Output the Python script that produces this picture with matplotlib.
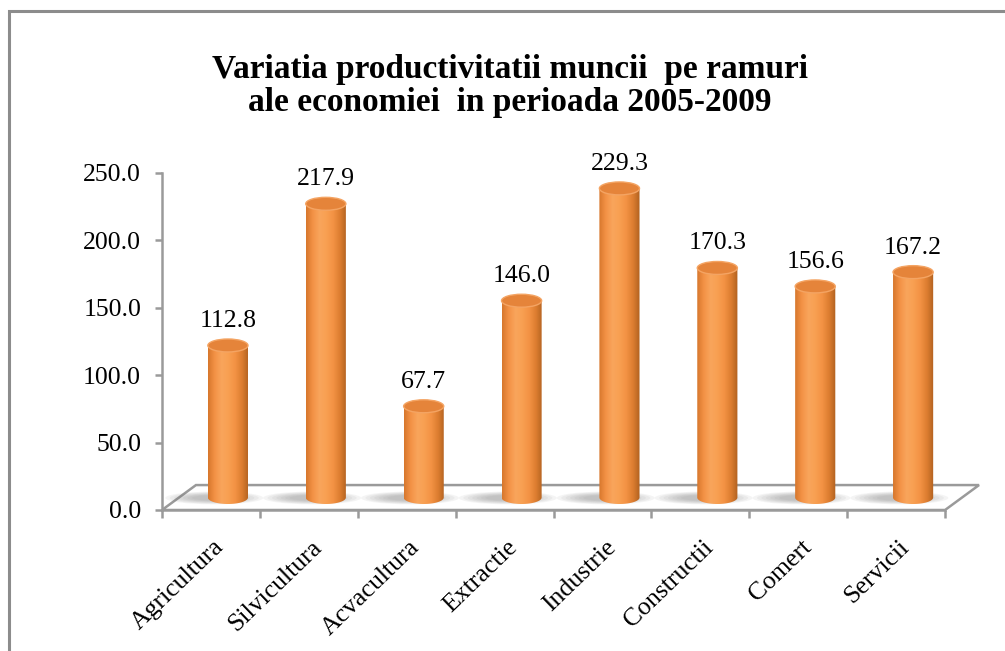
import numpy as np
import matplotlib
matplotlib.use("Agg")
import matplotlib.pyplot as plt
from matplotlib.patches import Ellipse, Polygon, Rectangle
from matplotlib.colors import LinearSegmentedColormap

plt.rcParams['font.family'] = ['Liberation Serif', 'DejaVu Serif']

# data
categories = ['Agricultura', 'Silvicultura', 'Acvacultura', 'Extractie',
              'Industrie', 'Constructii', 'Comert', 'Servicii']
values = [112.8, 217.9, 67.7, 146.0, 229.3, 170.3, 156.6, 167.2]
yticks = [0, 50, 100, 150, 200, 250]
title = 'Variatia productivitatii muncii  pe ramuri\nale economiei  in perioada 2005-2009'

# 3d look (in data units)
depth_x = 0.347      # floor depth, category units
depth_y = 18.5       # floor depth, value units
rx = 0.205           # cylinder radius
ry = 4.8             # ellipse half height, value units

fig = plt.figure(figsize=(10.05, 6.51), dpi=100)
fig.patches.append(Rectangle((9 / 1005, -0.1), 1.2, 1 - 11 / 651 + 0.1,
                             transform=fig.transFigure, fill=False,
                             edgecolor='#8c8c8c', linewidth=2.2))

ax = fig.add_axes([162 / 1005, 141 / 651, 832 / 1005, 350.5 / 651])
ax.patch.set_alpha(0)

grey = '#9a9a9a'
# floor
x0, x1 = -0.5, len(categories) - 0.5
floor = Polygon([(x0, 0), (x1, 0), (x1 + depth_x, depth_y), (x0 + depth_x, depth_y)],
                closed=True, facecolor='white', edgecolor=grey, linewidth=1.8,
                zorder=1)
ax.add_patch(floor)

cmap = LinearSegmentedColormap.from_list(
    'cyl', ['#d7772c', '#f39246', '#f9a55c', '#f8a052', '#f39244', '#dc7d30', '#b0611f'])
grad = np.linspace(0, 1, 256).reshape(1, -1)

for i, v in enumerate(values):
    xc = i + depth_x / 2
    yb = depth_y / 2
    yt = yb + v
    # soft shadow on the floor
    for k in range(7):
        ax.add_patch(Ellipse((xc - 0.14, yb - 0.3), 1.0 - k * 0.09, 9.5 - k * 0.9,
                             facecolor='#6f6f6f', edgecolor='none', alpha=0.07,
                             zorder=2))
    # body outline: sides + bottom half ellipse
    t = np.linspace(np.pi, 2 * np.pi, 60)
    pts = [(xc - rx, yt)] + list(zip(xc + rx * np.cos(t), yb + ry * np.sin(t))) + [(xc + rx, yt)]
    body = Polygon(pts, closed=True, facecolor='none', edgecolor='none')
    ax.add_patch(body)
    im = ax.imshow(grad, cmap=cmap, extent=(xc - rx, xc + rx, yb - ry, yt),
                   aspect='auto', zorder=3, interpolation='bilinear')
    im.set_clip_path(body)
    ax.add_patch(Ellipse((xc, yt), 2 * rx, 2 * ry, facecolor='#e5843a',
                         edgecolor='#f4a463', linewidth=1.0, zorder=4))
    ax.annotate(f'{v:.1f}', (xc, yt + ry), xytext=(0, 7), textcoords='offset pixels',
                ha='center', va='bottom', fontsize=18.5, zorder=5)

ax.set_xlim(-0.5, 8.0)
ax.set_ylim(0, 260)

for s in ['top', 'right']:
    ax.spines[s].set_visible(False)
ax.spines['left'].set_bounds(0, 250)
ax.spines['bottom'].set_bounds(x0, x1)
for s in ['left', 'bottom']:
    ax.spines[s].set_color(grey)
    ax.spines[s].set_linewidth(1.8)

ax.set_yticks(yticks)
ax.set_yticklabels([f'{t:.1f}' for t in yticks], fontsize=18.5)
ax.tick_params(axis='y', length=5, width=1.8, color=grey, pad=10)

ax.set_xticks(np.arange(len(categories) + 1) - 0.5)
ax.set_xticklabels([])
ax.tick_params(axis='x', length=6, width=1.8, color=grey)
for i, c in enumerate(categories):
    ax.annotate(c, (i, 0), xytext=(10, -34), textcoords='offset pixels',
                ha='right', va='center', rotation=44, rotation_mode='anchor',
                fontsize=18.5, annotation_clip=False)

fig.text(0.507, 1 - 86 / 651, title, ha='center', va='center', fontsize=24,
         fontweight='bold', linespacing=1.05)

fig.savefig('out.png', dpi=100)
